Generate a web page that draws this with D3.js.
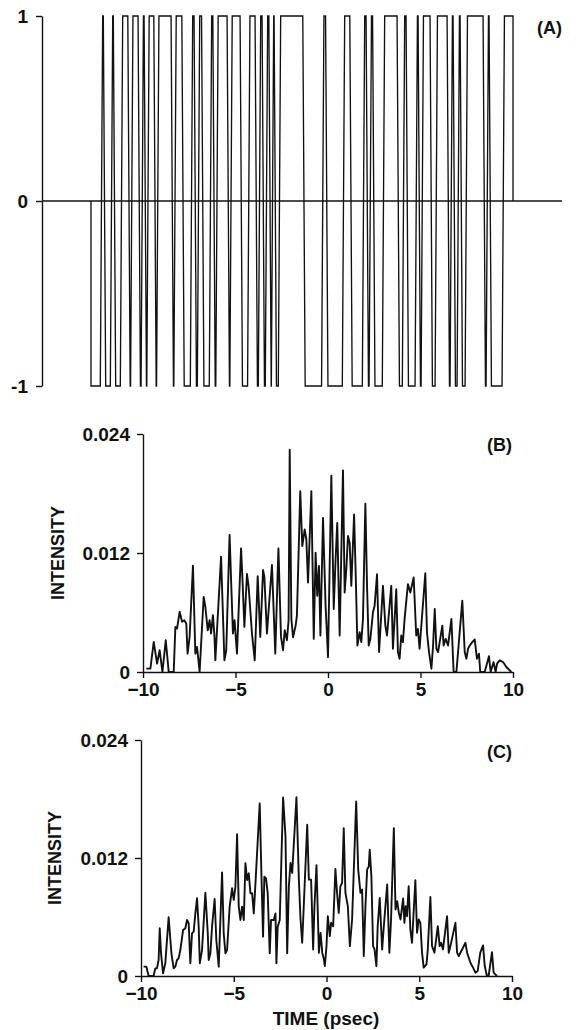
<!DOCTYPE html>
<html>
<head>
<meta charset="utf-8">
<script src="https://cdn.jsdelivr.net/npm/d3@7"></script>
<style>
  html, body { margin: 0; padding: 0; background: #fff; }
  svg { display: block; }
  text { font-family: "Liberation Sans", Arial, Helvetica, sans-serif; font-weight: bold; fill: #111; }
</style>
</head>
<body>
<svg id="chart" width="576" height="1030"></svg>
<script>
// ---------------- DATA ----------------
// Panel A: binary phase code (position axis in arbitrary units 0..100)
const codeStart = 9.42;          // drop from 0 to -1
const codeEnd = 90.58;           // drop from +1 back to 0
const codeEdges = [11.44, 12.02, 13.37, 13.94, 15.29, 16.73, 17.26, 18.70, 19.28, 19.86,
  20.38, 21.73, 22.26, 25.05, 25.58, 27.12, 28.75, 29.47, 30.10, 30.91,
  32.40, 33.08, 33.65, 35.82, 36.35, 38.32, 39.76, 41.20, 41.83, 42.55,
  43.17, 43.85, 44.33, 44.86, 45.67, 50.38, 53.99, 54.76, 57.98, 59.42,
  61.83, 62.55, 63.13, 63.80, 65.67, 68.51, 69.52, 70.24, 71.97, 72.55,
  73.13, 74.85, 75.82, 78.13, 78.70, 79.28, 80.05, 80.63, 81.59, 85.05,
  85.63, 86.20, 88.70];
const codeLevels = [-1, 0, 1];
const codeLevelLabels = ["-1", "0", "1"];

// Panel B: intensity vs time (psec), intensity in units of 1e-3
const timeB = [-9.82,-9.60,-9.42,-9.24,-9.10,-8.95,-8.77,-8.61,-8.34,-8.25,-8.16,-8.02,-7.89,-7.77,-7.66,-7.59,-7.48,-7.30,-7.17,-7.08,
  -6.94,-6.72,-6.63,-6.50,-6.40,-6.32,-6.22,-6.14,-6.09,-5.78,-5.60,-5.50,-5.32,-5.14,-5.05,-4.92,-4.70,-4.63,-4.52,-4.38,
  -4.29,-4.11,-3.96,-3.80,-3.66,-3.51,-3.44,-3.30,-3.03,-2.85,-2.68,-2.54,-2.43,-2.34,-2.22,-2.13,-2.07,-1.98,-1.89,-1.75,
  -1.68,-1.50,-1.39,-1.26,-1.17,-1.08,-0.90,-0.77,-0.67,-0.58,-0.49,-0.41,-0.27,-0.13,0.00,0.18,0.31,0.41,0.50,0.63,
  0.81,0.90,0.99,1.08,1.17,1.26,1.41,1.50,1.59,1.71,1.80,1.89,2.02,2.11,2.20,2.29,2.43,2.52,2.65,2.76,
  2.97,3.10,3.19,3.42,3.51,3.69,3.78,3.87,3.96,4.05,4.14,4.32,4.45,4.63,4.77,4.86,4.95,5.26,5.35,5.46,
  5.59,5.68,5.77,5.86,5.95,6.18,6.25,6.36,6.49,6.67,6.79,6.94,7.03,7.26,7.39,7.48,7.57,7.66,7.80,7.93,
  8.05,8.16,8.23,8.47,8.70,8.79,8.95,9.06,9.14,9.28,9.46,9.64,9.91];
const intensityB = [0.34,0.34,3.03,0.84,2.19,0.00,3.20,0.00,0.00,4.55,4.38,6.07,5.06,5.22,4.89,1.85,3.54,10.72,1.85,2.53,
  0.00,7.58,6.57,4.21,5.22,3.88,5.73,3.71,1.18,11.63,1.18,2.19,13.82,3.88,5.22,1.85,12.47,9.61,4.55,9.88,
  8.60,3.88,1.18,9.67,3.54,10.28,9.61,3.88,10.79,1.85,12.47,3.54,2.19,4.21,3.20,5.22,22.42,5.35,3.51,4.68,
  5.68,18.22,12.70,14.37,13.37,9.03,18.22,3.34,12.03,7.69,10.70,3.68,15.54,6.69,1.50,19.79,6.35,11.37,15.04,3.68,
  20.33,8.02,10.36,13.71,13.04,8.69,15.88,9.69,2.67,4.01,3.01,5.35,16.98,8.69,2.67,3.34,6.02,6.69,9.86,2.01,
  8.69,4.68,3.68,8.69,2.34,8.36,2.01,1.34,3.68,3.01,5.35,8.86,8.02,9.53,3.68,4.35,2.34,9.96,4.01,2.01,
  0.33,2.67,6.35,2.34,2.01,4.68,2.67,3.34,2.67,5.35,0.00,0.00,2.01,7.19,2.01,1.34,2.34,2.67,3.01,3.28,
  1.34,1.84,0.00,0.00,1.60,0.00,1.00,0.00,0.84,1.17,1.00,0.50,0.00];

// Panel C: intensity vs time (psec), intensity in units of 1e-3
const timeC = [-9.86,-9.71,-9.59,-9.32,-9.23,-9.14,-9.05,-8.99,-8.92,-8.81,-8.69,-8.51,-8.36,-8.24,-8.15,-8.06,-7.97,-7.88,-7.73,-7.61,
  -7.52,-7.43,-7.34,-7.25,-7.16,-7.07,-6.98,-6.89,-6.83,-6.71,-6.53,-6.40,-6.35,-6.26,-6.17,-6.03,-5.94,-5.81,-5.63,-5.54,
  -5.45,-5.36,-5.22,-5.09,-5.00,-4.91,-4.82,-4.73,-4.64,-4.55,-4.46,-4.37,-4.28,-4.19,-4.10,-4.01,-3.92,-3.83,-3.60,-3.51,
  -3.42,-3.35,-3.26,-3.17,-3.06,-2.99,-2.84,-2.75,-2.70,-2.63,-2.52,-2.34,-2.21,-2.12,-2.03,-1.94,-1.85,-1.62,-1.49,-1.40,
  -1.31,-1.04,-0.95,-0.83,-0.72,-0.65,-0.54,-0.41,-0.32,-0.23,-0.14,-0.09,0.00,0.07,0.18,0.25,0.36,0.48,0.57,0.66,
  0.75,0.84,0.93,1.02,1.15,1.26,1.38,1.60,1.71,1.83,1.92,2.01,2.10,2.19,2.28,2.33,2.42,2.51,2.59,2.69,
  2.76,2.87,3.00,3.09,3.27,3.39,3.48,3.63,3.72,3.81,3.90,3.99,4.13,4.20,4.27,4.34,4.43,4.52,4.61,4.79,
  4.88,4.97,5.06,5.15,5.24,5.39,5.46,5.60,5.69,5.82,6.00,6.10,6.18,6.28,6.50,6.59,6.68,6.95,7.04,7.13,
  7.31,7.49,7.58,7.76,7.90,8.03,8.15,8.29,8.44,8.53,8.65,8.74,8.92,9.01,9.10,9.19];
const intensityC = [0.95,0.95,0.00,0.00,0.78,0.78,1.63,4.85,2.31,0.27,1.29,5.97,2.31,0.78,0.95,1.63,1.80,2.64,4.68,4.85,
  5.70,5.36,1.29,4.34,4.51,6.37,7.90,5.02,1.29,2.64,8.47,4.34,1.63,2.31,5.02,7.83,3.66,0.95,10.54,4.34,
  2.31,2.64,7.05,8.92,7.73,9.09,14.41,7.05,5.70,7.05,5.70,11.46,9.76,10.44,8.41,8.41,6.37,9.42,17.56,10.44,
  4.00,10.10,9.93,8.41,2.31,5.70,5.70,6.37,1.29,5.02,5.70,18.17,14.17,2.31,9.09,11.49,10.48,18.18,9.80,5.75,
  3.38,15.38,9.80,9.80,2.70,7.10,11.26,2.37,4.39,2.37,1.69,1.01,3.04,6.08,4.06,5.41,5.07,10.88,8.45,6.42,
  9.13,9.46,15.04,8.45,7.10,3.04,5.75,17.75,10.82,8.45,8.79,2.03,7.10,10.82,11.15,12.84,10.14,3.04,2.70,1.01,
  5.07,7.94,2.70,5.07,9.30,2.37,5.75,15.04,6.76,7.61,6.42,5.75,7.88,5.41,7.10,6.08,9.13,4.73,3.38,9.73,
  4.39,5.75,5.41,2.37,0.85,1.18,2.70,8.04,3.04,2.37,5.07,3.04,3.38,2.70,6.08,2.37,3.04,5.41,2.37,2.03,
  2.70,3.38,2.37,1.35,0.85,0.34,0.51,2.37,3.11,1.01,0.00,0.00,2.43,0.34,0.17,0.00];

const timeTicks = [-10, -5, 0, 5, 10];
const intensityTicks = [0, 0.012, 0.024];
const intensityTickLabels = ["0", "0.012", "0.024"];

// ---------------- DRAW ----------------
const svg = d3.select("#chart");
svg.append("rect").attr("width", 576).attr("height", 1030).attr("fill", "#fff");
const FS = 19;
const ink = "#111";

function styleAxis(g) {
  g.selectAll("path.domain").attr("stroke", ink).attr("stroke-width", 1.4);
  g.selectAll(".tick line").attr("stroke", ink).attr("stroke-width", 1.4);
  g.selectAll(".tick text").attr("font-size", FS).attr("font-family", '"Liberation Sans", Arial, sans-serif')
    .attr("font-weight", "bold").attr("fill", ink);
}

// ---- Panel A ----
const xA = d3.scaleLinear().domain([0, 100]).range([42, 562]);
const yA = d3.scaleLinear().domain([-1, 1]).range([386, 16]);

const gAy = svg.append("g").attr("transform", `translate(${xA(0)},0)`)
  .call(d3.axisLeft(yA).tickValues(codeLevels).tickFormat((d, i) => codeLevelLabels[i]).tickSize(6).tickSizeOuter(0).tickPadding(8));
styleAxis(gAy);

svg.append("line").attr("x1", xA(0)).attr("x2", xA(100)).attr("y1", yA(0)).attr("y2", yA(0))
  .attr("stroke", ink).attr("stroke-width", 1.7);

const half = 0.23;
const wave = [[codeStart, 0], [codeStart, -1]];
let lvl = -1;
codeEdges.forEach(e => {
  wave.push([e - half, lvl]);
  lvl = -lvl;
  wave.push([e + half, lvl]);
});
wave.push([codeEnd, lvl]);
wave.push([codeEnd, 0]);
svg.append("path").datum(wave)
  .attr("d", d3.line().x(d => xA(d[0])).y(d => yA(d[1])))
  .attr("fill", "none").attr("stroke", ink).attr("stroke-width", 1.35).attr("stroke-linejoin", "miter");

svg.append("text").attr("x", 537).attr("y", 34).attr("font-size", 18).text("(A)");

// ---- Intensity panels ----
function intensityPanel(opt) {
  const x = d3.scaleLinear().domain([-10, 10]).range([opt.x0, opt.x1]);
  const y = d3.scaleLinear().domain([0, 0.024]).range([opt.y0, opt.y1]);
  const gy = svg.append("g").attr("transform", `translate(${opt.x0},0)`)
    .call(d3.axisLeft(y).tickValues(intensityTicks).tickFormat((d, i) => intensityTickLabels[i]).tickSize(6).tickSizeOuter(0).tickPadding(7));
  styleAxis(gy);
  const gx = svg.append("g").attr("transform", `translate(0,${opt.y0})`)
    .call(d3.axisBottom(x).tickValues(timeTicks).tickFormat(d3.format("d")).tickSize(6).tickSizeOuter(0).tickPadding(5));
  styleAxis(gx);
  const pts = opt.t.map((t, i) => [t, opt.v[i] / 1000]);
  svg.append("path").datum(pts)
    .attr("d", d3.line().x(d => x(d[0])).y(d => y(d[1])))
    .attr("fill", "none").attr("stroke", ink).attr("stroke-width", 1.9).attr("stroke-linejoin", "round");
  svg.append("text").attr("transform", `translate(${opt.labX},${(opt.y0 + opt.y1) / 2}) rotate(-90)`)
    .attr("text-anchor", "middle").attr("font-size", 18).text("INTENSITY");
  svg.append("text").attr("x", opt.tagX).attr("y", opt.tagY).attr("font-size", 18).text(opt.tag);
}

intensityPanel({ x0: 143, x1: 513, y0: 672, y1: 434, t: timeB, v: intensityB, labX: 64, tag: "(B)", tagX: 487, tagY: 451 });
intensityPanel({ x0: 141, x1: 512, y0: 976, y1: 740, t: timeC, v: intensityC, labX: 61, tag: "(C)", tagX: 487, tagY: 758 });

svg.append("text").attr("x", 326).attr("y", 1025).attr("text-anchor", "middle").attr("font-size", FS).text("TIME (psec)");
</script>
</body>
</html>
